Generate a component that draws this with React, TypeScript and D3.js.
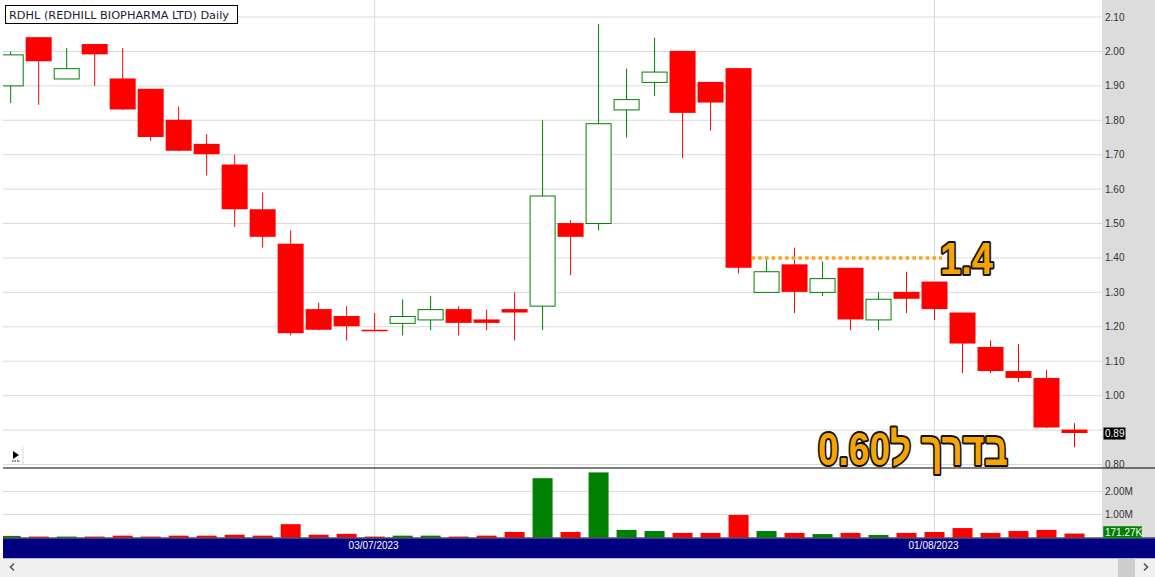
import React from 'react';
import * as d3 from 'd3';

// daily bars, 13/06/2023 .. 08/08/2023
const dates = [
  '2023-06-13', '2023-06-14', '2023-06-15', '2023-06-16', '2023-06-20', '2023-06-21',
  '2023-06-22', '2023-06-23', '2023-06-26', '2023-06-27', '2023-06-28', '2023-06-29',
  '2023-06-30', '2023-07-03', '2023-07-05', '2023-07-06', '2023-07-07', '2023-07-10',
  '2023-07-11', '2023-07-12', '2023-07-13', '2023-07-14', '2023-07-17', '2023-07-18',
  '2023-07-19', '2023-07-20', '2023-07-21', '2023-07-24', '2023-07-25', '2023-07-26',
  '2023-07-27', '2023-07-28', '2023-07-31', '2023-08-01', '2023-08-02', '2023-08-03',
  '2023-08-04', '2023-08-07', '2023-08-08',
];
const open = [
  1.9, 2.04, 1.92, 2.02, 1.92, 1.89, 1.8, 1.73, 1.67, 1.54, 1.44, 1.25, 1.23,
  1.19, 1.21, 1.22, 1.25, 1.22, 1.25, 1.26, 1.5, 1.5, 1.83, 1.91, 2.0, 1.91,
  1.95, 1.3, 1.38, 1.3, 1.37, 1.22, 1.3, 1.33, 1.24, 1.14, 1.07, 1.05, 0.9,
];
const high = [
  2.0, 2.04, 2.01, 2.02, 2.01, 1.89, 1.84, 1.76, 1.7, 1.59, 1.48, 1.27, 1.26,
  1.24, 1.28, 1.29, 1.26, 1.25, 1.3, 1.8, 1.51, 2.08, 1.95, 2.04, 2.0, 1.91,
  1.95, 1.395, 1.43, 1.39, 1.37, 1.3, 1.36, 1.33, 1.24, 1.16, 1.15, 1.075, 0.92,
];
const low = [
  1.85, 1.845, 1.92, 1.9, 1.83, 1.74, 1.71, 1.64, 1.49, 1.43, 1.175, 1.19, 1.16,
  1.19, 1.175, 1.19, 1.175, 1.19, 1.16, 1.19, 1.35, 1.48, 1.75, 1.87, 1.69, 1.77,
  1.355, 1.3, 1.24, 1.29, 1.19, 1.19, 1.24, 1.22, 1.065, 1.065, 1.04, 0.906, 0.85,
];
const close = [
  1.99, 1.97, 1.95, 1.99, 1.83, 1.75, 1.71, 1.7, 1.54, 1.46, 1.18, 1.19, 1.2,
  1.19, 1.23, 1.25, 1.21, 1.21, 1.24, 1.58, 1.46, 1.79, 1.86, 1.94, 1.82, 1.85,
  1.37, 1.36, 1.3, 1.34, 1.22, 1.28, 1.28, 1.25, 1.15, 1.07, 1.05, 0.906, 0.89,
];
// volume in millions of shares
const volume = [
  0.07, 0.04, 0.04, 0.04, 0.08, 0.04, 0.08, 0.08, 0.12, 0.08, 0.58, 0.12, 0.16,
  0.04, 0.08, 0.08, 0.04, 0.08, 0.24, 2.58, 0.24, 2.83, 0.33, 0.28, 0.2, 0.2,
  0.98, 0.28, 0.2, 0.15, 0.2, 0.11, 0.2, 0.24, 0.41, 0.2, 0.28, 0.33, 0.17127,
];
const priceTicks = [0.8, 0.9, 1.0, 1.1, 1.2, 1.3, 1.4, 1.5, 1.6, 1.7, 1.8, 1.9, 2.0, 2.1];
const volumeTicks = [1, 2];
const title = 'RDHL (REDHILL BIOPHARMA LTD) Daily';
const resistance = 1.4;
const resistanceFrom = '2023-07-21';
const target = 'בדרך ל0.60';

const W = 1155;
const H = 577;
const plot = { left: 3, right: 1102, top: 0, priceBottom: 468, volBottom: 538, dateBottom: 558 };
const RED = '#ff0000';
const GREEN = '#008000';
const GRID = '#d9d9d9';

export default function App() {
  const parse = d3.timeParse('%Y-%m-%d');
  const fmtDate = d3.timeFormat('%d/%m/%Y');
  const days = dates.map(d => parse(d) as Date);

  const x = d3.scalePoint<string>().domain(dates).range([10.7, 1074.5]);
  const y = d3.scaleLinear().domain([0.8, 2.1]).range([464.5, 17]);
  const yv = d3.scaleLinear().domain([0, 3]).range([537.5, 468.5]);
  const bodyW = 26;
  const volW = 20;

  const candles = dates.map((d, i) => ({
    d, o: open[i], h: high[i], l: low[i], c: close[i], v: volume[i],
    up: close[i] > open[i],
  }));

  // first trading day of each new month gets a date label
  const monthStarts = days
    .map((d, i) => ({ d, i }))
    .filter(({ d, i }) => i > 0 && d.getMonth() !== days[i - 1].getMonth());

  const last = candles[candles.length - 1];
  const font = '"Liberation Sans", Arial, sans-serif';
  // axis labels hidden under the last-price tag
  const shownTicks = priceTicks.filter(t => Math.abs(y(t) - y(last.c)) > 8);

  return (
    <svg width={W} height={H} style={{ position: 'absolute', left: 0, top: 0, display: 'block' }}>
      <defs>
        <clipPath id="plotClip">
          <rect x={plot.left} y={0} width={plot.right - plot.left} height={plot.volBottom} />
        </clipPath>
      </defs>
      <rect x={0} y={0} width={W} height={H} fill="#fff" />
      {/* right axis strip */}
      <rect x={plot.right} y={0} width={W - plot.right} height={plot.volBottom} fill="#dcdcdc" />

      {/* horizontal grid */}
      {priceTicks.map(t => (
        <line key={t} x1={plot.left} x2={plot.right} y1={y(t)} y2={y(t)} stroke={GRID} />
      ))}
      {volumeTicks.map(t => (
        <line key={t} x1={plot.left} x2={plot.right} y1={yv(t)} y2={yv(t)} stroke={GRID} />
      ))}
      {/* vertical month lines */}
      {monthStarts.map(({ i }) => (
        <line key={i} x1={x(dates[i])} x2={x(dates[i])} y1={0} y2={plot.volBottom} stroke={GRID} />
      ))}

      <g clipPath="url(#plotClip)">
        {candles.map(k => {
          const cx = x(k.d) as number;
          const col = k.up ? GREEN : RED;
          const top = y(Math.max(k.o, k.c));
          const bot = y(Math.min(k.o, k.c));
          return (
            <g key={k.d}>
              <line x1={cx} x2={cx} y1={y(k.h)} y2={y(k.l)} stroke={col} strokeWidth={1} />
              {k.up ? (
                <rect x={cx - bodyW / 2 + 0.5} y={top} width={bodyW - 1} height={Math.max(bot - top, 1)}
                  fill="#fff" stroke={col} strokeWidth={1} />
              ) : (
                <rect x={cx - bodyW / 2} y={top - 0.5} width={bodyW} height={Math.max(bot - top, 1.5)} fill={col} />
              )}
            </g>
          );
        })}
        {candles.map(k => (
          <rect key={k.d} x={(x(k.d) as number) - volW / 2} y={yv(k.v)} width={volW}
            height={yv(0) - yv(k.v)} fill={k.up ? GREEN : RED} />
        ))}
      </g>

      {/* panel separators */}
      <line x1={plot.left} x2={W} y1={plot.priceBottom} y2={plot.priceBottom} stroke="#000" />
      <line x1={plot.left} x2={W} y1={plot.volBottom} y2={plot.volBottom} stroke="#000" />

      {/* right axis labels */}
      {shownTicks.map(t => (
        <text key={t} x={1105} y={y(t)} dy="0.35em" fontFamily={font} fontSize={10} fill="#333">
          {d3.format('.2f')(t)}
        </text>
      ))}
      {volumeTicks.map(t => (
        <text key={t} x={1105} y={yv(t)} dy="0.35em" fontFamily={font} fontSize={10} fill="#333">
          {d3.format('.2f')(t)}M
        </text>
      ))}

      {/* last price / last volume tags */}
      <rect x={1103.5} y={y(last.c) - 6} width={22} height={12} fill="#000" />
      <text x={1105} y={y(last.c)} dy="0.35em" fontFamily={font} fontSize={10} fill="#fff">
        {d3.format('.2f')(last.c)}
      </text>
      <rect x={1103.5} y={526.5} width={38} height={11.5} fill={GREEN} stroke="#3a9a3a" />
      <text x={1105} y={532.5} dy="0.35em" fontFamily={font} fontSize={10} fill="#fff">
        {d3.format('.2f')(last.v * 1000)}K
      </text>

      {/* date bar */}
      <rect x={plot.left} y={plot.volBottom + 0.5} width={W - plot.left} height={plot.dateBottom - plot.volBottom} fill="#000080" />
      {monthStarts.map(({ d, i }) => (
        <text key={i} x={(x(dates[i]) as number) - 1} y={545} dy="0.35em" textAnchor="middle"
          fontFamily={font} fontSize={10} fill="#fff">
          {fmtDate(d)}
        </text>
      ))}

      {/* scrollbar */}
      <rect x={0} y={plot.dateBottom + 0.5} width={W} height={H - plot.dateBottom} fill="#f0f0f0" />
      <rect x={1118} y={559} width={17} height={18} fill="#cdcdcd" />
      <path d="M14,563.5 L10.5,567 L14,570.5" fill="none" stroke="#555" strokeWidth={1.6} />
      <path d="M1144,563.5 L1147.5,567 L1144,570.5" fill="none" stroke="#555" strokeWidth={1.6} />

      {/* play marker */}
      <path d="M13,451 L19,455 L13,459 Z" fill="#000" />
      <line x1={12} x2={20} y1={461} y2={461} stroke="#000" strokeDasharray="1.5,1" />
      <line x1={23} x2={23} y1={447} y2={465} stroke={GRID} />

      {/* title */}
      <rect x={5.5} y={5.5} width={232} height={18} fill="#fff" stroke="#000" />
      <text x={9} y={15} dy="0.35em" fontFamily='"DejaVu Sans", Verdana, sans-serif' fontSize={11}
        textLength={220} lengthAdjust="spacingAndGlyphs" fill="#1a1a3a">
        {title}
      </text>

      {/* annotations */}
      <line x1={(x(resistanceFrom) as number) + bodyW / 2} x2={942} y1={y(resistance)} y2={y(resistance)}
        stroke="#f5a623" strokeWidth={3.5} strokeDasharray="3.5,3.2" />
      <text x={940} y={274} fontFamily={font} fontWeight="bold" fontSize={45}
        textLength={53} lengthAdjust="spacingAndGlyphs"
        fill="#f5a500" stroke="#111" strokeWidth={4} strokeLinejoin="round" paintOrder="stroke">
        {d3.format('.1f')(resistance)}
      </text>
      <text x={818} y={465} fontFamily={font} fontWeight="bold" fontSize={46}
        textLength={190} lengthAdjust="spacingAndGlyphs"
        fill="#f5a500" stroke="#111" strokeWidth={4} strokeLinejoin="round" paintOrder="stroke">
        {target}
      </text>
    </svg>
  );
}
